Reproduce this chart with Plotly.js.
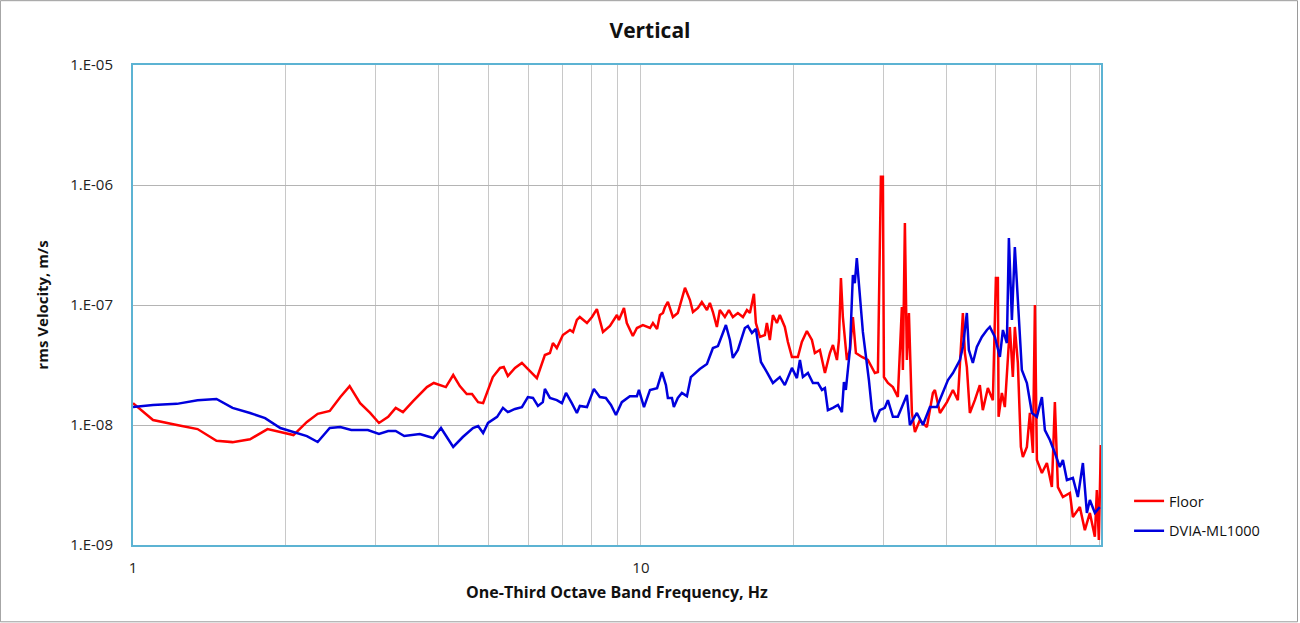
<!DOCTYPE html>
<html>
<head>
<meta charset="utf-8">
<script src="https://cdn.plot.ly/plotly-3.0.1.min.js"></script>
<style>
  html, body { margin: 0; padding: 0; background: #fff; }
  #chart { width: 1300px; height: 623px; }
</style>
</head>
<body>
<div id="chart"></div>
<script>
// 床の測定値 (Floor)
const floorHz = [1.00, 1.095, 1.22, 1.34, 1.46, 1.57, 1.70, 1.84, 2.07, 2.20,
  2.31, 2.44, 2.56, 2.67, 2.80, 2.93, 3.05, 3.18, 3.29, 3.40,
  3.56, 3.79, 3.91, 4.13, 4.27, 4.40, 4.54, 4.65, 4.78, 4.89,
  5.11, 5.28, 5.37, 5.47, 5.65, 5.83, 5.96, 6.24, 6.47, 6.62,
  6.71, 6.83, 7.02, 7.25, 7.35, 7.48, 7.58, 7.83, 8.01, 8.19,
  8.42, 8.69, 8.97, 9.05, 9.26, 9.38, 9.64, 9.82, 10.09, 10.42,
  10.56, 10.76, 10.90, 11.05, 11.15, 11.30, 11.56, 11.82, 12.21, 12.49,
  12.66, 12.95, 13.18, 13.49, 13.67, 13.86, 14.11, 14.30, 14.63, 14.90,
  15.17, 15.52, 15.88, 16.17, 16.39, 16.69, 16.84, 17.15, 17.54, 17.70,
  17.94, 18.19, 18.52, 18.77, 19.20, 19.47, 19.83, 20.37, 20.74, 21.22,
  21.71, 22.00, 22.51, 23.03, 23.55, 23.88, 24.32, 24.54, 24.76, 24.98,
  25.44, 25.79, 26.14, 26.50, 27.23, 27.98, 28.88, 29.28, 29.68, 29.95,
  30.09, 30.64, 31.34, 32.05, 32.64, 32.79, 33.09, 33.39, 33.70, 34.16,
  34.63, 35.42, 36.56, 37.57, 37.91, 38.79, 40.04, 41.14, 42.07, 43.04,
  43.43, 43.82, 44.42, 45.44, 46.48, 47.11, 48.20, 49.31, 49.99, 50.44,
  50.60, 51.36, 52.06, 52.77, 53.25, 53.98, 54.47, 55.22, 55.98, 56.49,
  57.53, 58.32, 59.12, 59.66, 60.20, 61.58, 62.99, 64.43, 65.31, 66.21,
  67.73, 69.91, 70.87, 73.15, 74.82, 76.54, 78.29, 79.00, 79.72, 80.44];
const floorVel = [1.52e-8, 1.10e-8, 1.00e-8, 9.25e-9, 7.4e-9, 7.2e-9, 7.6e-9, 9.25e-9, 8.25e-9, 1.06e-8,
  1.24e-8, 1.31e-8, 1.71e-8, 2.11e-8, 1.52e-8, 1.26e-8, 1.04e-8, 1.17e-8, 1.39e-8, 1.28e-8,
  1.58e-8, 2.07e-8, 2.24e-8, 2.07e-8, 2.61e-8, 2.11e-8, 1.81e-8, 1.81e-8, 1.55e-8, 1.52e-8,
  2.51e-8, 2.99e-8, 3.04e-8, 2.56e-8, 2.99e-8, 3.29e-8, 2.99e-8, 2.46e-8, 3.83e-8, 3.98e-8,
  4.82e-8, 4.38e-8, 5.62e-8, 6.19e-8, 5.96e-8, 7.50e-8, 7.94e-8, 7.08e-8, 7.94e-8, 9.25e-8,
  5.96e-8, 6.68e-8, 8.25e-8, 7.50e-8, 9.44e-8, 7.08e-8, 5.52e-8, 6.43e-8, 6.81e-8, 6.43e-8,
  7.08e-8, 6.31e-8, 8.25e-8, 8.58e-8, 9.62e-8, 1.06e-7, 7.94e-8, 8.58e-8, 1.39e-7, 1.10e-7,
  8.74e-8, 9.44e-8, 1.06e-7, 9.08e-8, 1.04e-7, 8.74e-8, 6.56e-8, 9.08e-8, 7.94e-8, 9.08e-8,
  7.94e-8, 8.58e-8, 7.94e-8, 9.08e-8, 8.58e-8, 1.24e-7, 7.08e-8, 5.42e-8, 5.62e-8, 7.08e-8,
  5.11e-8, 8.25e-8, 7.08e-8, 8.25e-8, 6.56e-8, 4.92e-8, 3.69e-8, 3.69e-8, 4.92e-8, 6.07e-8,
  5.11e-8, 3.98e-8, 4.22e-8, 2.71e-8, 3.98e-8, 4.64e-8, 3.48e-8, 5.11e-8, 1.68e-7, 7.94e-8,
  3.48e-8, 4.22e-8, 7.94e-8, 3.98e-8, 3.69e-8, 3.48e-8, 2.71e-8, 2.76e-8, 1.17e-6, 1.17e-6,
  2.51e-8, 2.24e-8, 2.07e-8, 1.71e-8, 9.62e-8, 2.87e-8, 4.82e-7, 3.48e-8, 8.58e-8, 1.26e-8,
  8.74e-9, 1.10e-8, 9.62e-9, 1.85e-8, 1.96e-8, 1.26e-8, 1.55e-8, 1.96e-8, 1.61e-8, 8.58e-8,
  3.98e-8, 3.04e-8, 1.26e-8, 1.61e-8, 2.15e-8, 1.33e-8, 2.03e-8, 1.61e-8, 1.68e-7, 1.68e-7,
  1.17e-8, 1.85e-8, 1.41e-8, 3.35e-8, 6.56e-8, 2.51e-8, 6.56e-8, 3.29e-8, 6.56e-9, 5.42e-9,
  6.56e-9, 1.26e-8, 5.85e-9, 1.00e-7, 5.11e-9, 3.98e-9, 4.82e-9, 3.04e-9, 1.55e-8, 3.04e-9,
  2.51e-9, 2.71e-9, 1.71e-9, 2.07e-9, 1.33e-9, 1.85e-9, 1.17e-9, 2.87e-9, 1.10e-9, 6.81e-9];

// 除振台の測定値 (DVIA-ML1000)
const dviaHz = [1.00, 1.095, 1.22, 1.34, 1.46, 1.57, 1.70, 1.82, 1.95, 2.10,
  2.20, 2.31, 2.44, 2.56, 2.69, 2.90, 3.05, 3.18, 3.29, 3.42,
  3.56, 3.67, 3.90, 4.04, 4.27, 4.46, 4.67, 4.78, 4.89, 5.00,
  5.21, 5.35, 5.47, 5.65, 5.83, 5.99, 6.13, 6.27, 6.41, 6.47,
  6.62, 6.83, 6.99, 7.12, 7.31, 7.48, 7.58, 7.83, 8.08, 8.30,
  8.53, 8.73, 8.93, 9.17, 9.51, 9.82, 9.91, 10.14, 10.42, 10.76,
  11.00, 11.20, 11.30, 11.51, 11.61, 11.82, 12.04, 12.32, 12.54, 13.06,
  13.49, 13.86, 14.18, 14.43, 14.70, 14.97, 15.17, 15.52, 16.02, 16.24,
  16.54, 16.84, 17.23, 17.70, 18.19, 18.77, 19.20, 19.83, 20.28, 20.56,
  20.84, 21.32, 21.81, 22.31, 22.72, 23.03, 23.34, 23.88, 24.43, 24.87,
  25.10, 25.32, 25.79, 26.14, 26.37, 26.61, 26.86, 27.23, 27.35, 27.73,
  28.11, 28.50, 28.88, 29.54, 30.21, 30.64, 31.34, 32.05, 32.79, 33.39,
  33.85, 34.94, 35.91, 37.07, 38.26, 39.31, 40.22, 41.14, 42.46, 43.04,
  43.82, 44.22, 45.03, 45.85, 46.90, 47.99, 48.64, 49.76, 50.90, 51.60,
  52.54, 53.02, 53.75, 54.47, 55.22, 56.23, 57.53, 58.85, 60.20, 61.58,
  62.42, 63.85, 65.31, 66.79, 67.73, 68.97, 70.87, 72.48, 74.16, 75.51,
  76.54, 78.29, 80.07];
const dviaVel = [1.41e-8, 1.47e-8, 1.50e-8, 1.61e-8, 1.65e-8, 1.39e-8, 1.26e-8, 1.14e-8, 9.44e-9, 8.58e-9,
  8.09e-9, 7.22e-9, 9.44e-9, 9.62e-9, 9.08e-9, 9.08e-9, 8.41e-9, 8.91e-9, 8.91e-9, 8.09e-9,
  8.25e-9, 8.41e-9, 7.79e-9, 9.44e-9, 6.56e-9, 7.94e-9, 9.44e-9, 9.81e-9, 8.58e-9, 1.04e-8,
  1.17e-8, 1.39e-8, 1.28e-8, 1.36e-8, 1.41e-8, 1.71e-8, 1.68e-8, 1.44e-8, 1.55e-8, 2.00e-8,
  1.68e-8, 1.61e-8, 1.52e-8, 1.85e-8, 1.52e-8, 1.26e-8, 1.44e-8, 1.41e-8, 2.00e-8, 1.71e-8,
  1.68e-8, 1.47e-8, 1.21e-8, 1.55e-8, 1.74e-8, 1.74e-8, 1.96e-8, 1.41e-8, 1.96e-8, 2.03e-8,
  2.76e-8, 2.15e-8, 1.68e-8, 1.68e-8, 1.41e-8, 1.68e-8, 1.85e-8, 1.74e-8, 2.51e-8, 2.93e-8,
  3.22e-8, 4.38e-8, 4.55e-8, 5.62e-8, 6.81e-8, 5.11e-8, 3.62e-8, 4.22e-8, 6.43e-8, 6.68e-8,
  5.85e-8, 6.31e-8, 3.35e-8, 2.76e-8, 2.24e-8, 2.51e-8, 2.15e-8, 2.99e-8, 2.46e-8, 3.48e-8,
  2.51e-8, 2.71e-8, 2.24e-8, 2.24e-8, 1.96e-8, 2.03e-8, 1.33e-8, 1.39e-8, 1.47e-8, 1.28e-8,
  2.28e-8, 1.96e-8, 4.22e-8, 1.78e-7, 1.52e-7, 2.46e-7, 1.41e-7, 7.50e-8, 5.96e-8, 3.83e-8,
  2.37e-8, 1.33e-8, 1.06e-8, 1.33e-8, 1.39e-8, 1.61e-8, 1.17e-8, 1.17e-8, 1.47e-8, 1.78e-8,
  1.00e-8, 1.26e-8, 1.00e-8, 1.41e-8, 1.41e-8, 1.85e-8, 2.37e-8, 2.71e-8, 3.48e-8, 4.47e-8,
  8.58e-8, 4.22e-8, 3.29e-8, 4.47e-8, 5.42e-8, 6.19e-8, 6.56e-8, 5.42e-8, 3.69e-8, 6.19e-8,
  4.82e-8, 3.62e-7, 7.50e-8, 3.04e-7, 1.17e-7, 2.87e-8, 2.24e-8, 1.26e-8, 1.17e-8, 1.71e-8,
  9.08e-9, 7.50e-9, 5.85e-9, 4.47e-9, 5.11e-9, 3.48e-9, 3.62e-9, 2.51e-9, 4.82e-9, 1.85e-9,
  2.37e-9, 1.85e-9, 2.07e-9];

// 軸の目盛
const yTickVals = [1e-9, 1e-8, 1e-7, 1e-6, 1e-5];
const yTickText = ['1.E-09', '1.E-08', '1.E-07', '1.E-06', '1.E-05'];
const xTickVals = [1, 2, 3, 4, 5, 6, 7, 8, 9, 10, 20, 30, 40, 50, 60, 70, 80];
const xTickText = ['1', '', '', '', '', '', '', '', '', '10', '', '', '', '', '', '', ''];

const FONT = '"Open Sans", "Noto Sans", sans-serif';

var data = [
  {
    x: floorHz,
    y: floorVel,
    mode: 'lines',
    name: 'Floor',
    legendgroup: 'a',
    line: { color: '#ff0000', width: 2.5 },
  },
  {
    x: dviaHz,
    y: dviaVel,
    mode: 'lines',
    name: 'DVIA-ML1000',
    legendgroup: 'b',
    line: { color: '#0000dd', width: 2.5 },
  }
];

var layout = {
  width: 1300,
  height: 623,
  margin: { l: 133, r: 199, t: 65, b: 78 },
  paper_bgcolor: '#ffffff',
  plot_bgcolor: '#ffffff',
  font: { family: FONT, size: 14, color: '#222' },
  title: {
    text: '<b>Vertical</b>',
    font: { family: FONT, size: 21, color: '#111' },
    x: 0.5, xref: 'container', y: 0.963, yref: 'container'
  },
  xaxis: {
    type: 'log',
    range: [0, Math.log10(80.5)],
    tickmode: 'array',
    tickvals: xTickVals,
    ticktext: xTickText,
    ticks: '',
    ticklabelstandoff: 8,
    tickfont: { size: 15 },
    showgrid: true,
    gridcolor: '#c8c8c8',
    gridwidth: 1,
    showline: true,
    mirror: true,
    linecolor: '#5cb3d3',
    linewidth: 2,
    zeroline: false,
    title: { text: '<b>One-Third Octave Band Frequency, Hz</b>', font: { family: FONT, size: 16, color: '#111' }, standoff: 11 }
  },
  yaxis: {
    type: 'log',
    range: [-9, -5],
    tickmode: 'array',
    tickvals: yTickVals,
    ticktext: yTickText,
    ticks: '',
    ticklabelstandoff: 15,
    tickfont: { size: 15 },
    showgrid: true,
    gridcolor: '#b4b4b4',
    gridwidth: 1,
    showline: true,
    mirror: true,
    linecolor: '#5cb3d3',
    linewidth: 2,
    zeroline: false,
    title: { text: '<b>rms Velocity, m/s</b>', font: { family: FONT, size: 15, color: '#111' }, standoff: 18 }
  },
  showlegend: true,
  legend: {
    x: 1.029, xanchor: 'left',
    y: 0.125, yanchor: 'top',
    tracegroupgap: 8,
    font: { family: FONT, size: 14.5, color: '#111' },
    bgcolor: 'rgba(0,0,0,0)'
  },
  shapes: [
    { type: 'rect', xref: 'paper', yref: 'paper', x0: -0.137, x1: 1.203, y0: -0.160, y1: 1.134,
      line: { color: '#9a9a9a', width: 1 }, layer: 'below' }
  ]
};

var config = { staticPlot: true, displayModeBar: false };

Plotly.newPlot('chart', data, layout, config);
</script>
</body>
</html>
